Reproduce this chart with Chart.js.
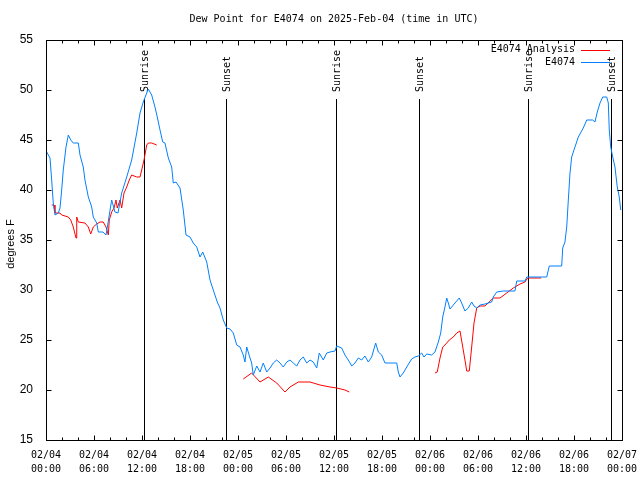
<!DOCTYPE html>
<html>
<head>
<meta charset="utf-8">
<title>Dew Point for E4074</title>
<script src="https://cdn.jsdelivr.net/npm/chart.js@4.4.1/dist/chart.umd.min.js"></script>
<style>
  html, body { margin: 0; padding: 0; background: #fff; }
  #wrap { width: 640px; height: 480px; }
</style>
</head>
<body>
<div id="wrap"><canvas id="dewChart" width="640" height="480"></canvas></div>
<script>
// hours since 2025-02-04 00:00 UTC
const obsHours = [
  0.09, 0.5, 0.71, 0.91, 1.12, 1.54, 1.75, 1.96, 2.16, 2.5, 2.79, 3.09, 3.41, 4.04, 4.25, 4.66, 4.87,
  5.29, 5.71, 5.91, 6.34, 6.54, 7.12, 7.5, 7.75, 8.21, 8.62, 9.0, 9.46, 10.09, 10.71, 11.34, 11.75,
  12.16, 12.59, 12.79, 13.21, 13.62, 13.91, 14.25, 14.59, 14.87, 15.29, 15.71, 15.91, 16.25, 16.75,
  17.16, 17.5, 18.0, 18.41, 18.84, 19.25, 19.59, 20.09, 20.5, 20.91, 21.41, 21.75, 22.16, 22.59,
  23.0, 23.41, 23.84, 24.25, 24.66, 24.87, 25.09, 25.5, 25.71, 25.91, 26.34, 26.75, 27.16, 27.59,
  28.0, 28.41, 28.84, 29.25, 29.66, 30.09, 30.5, 30.91, 31.34, 31.75, 32.16, 32.59, 33.0, 33.41,
  33.84, 34.16, 34.66, 35.09, 35.5, 36.12, 36.34, 36.96, 37.37, 37.79, 38.21, 38.62, 39.04, 39.46,
  39.87, 40.29, 40.71, 41.21, 41.54, 41.96, 42.37, 43.0, 43.84, 44.04, 44.25, 44.66, 45.09, 45.71,
  46.12, 46.54, 46.96, 47.25, 47.59, 48.21, 48.62, 49.04, 49.34, 49.59, 49.87, 50.09, 50.29, 50.5,
  51.12, 51.66, 51.96, 52.37, 52.79, 53.21, 53.5, 53.84, 54.25, 54.87, 55.71, 55.91, 56.34, 57.16,
  58.62, 58.84, 59.87, 60.09, 62.59, 62.91, 64.46, 64.59, 64.87, 65.09, 65.29, 65.5, 65.71, 66.12,
  66.54, 67.16, 67.59, 68.34, 68.62, 68.91, 69.25, 69.59, 70.09, 70.29, 70.41, 70.59, 70.84, 71.12,
  71.41, 71.66, 71.84
];
const obsDew = [
  43.8, 43.2, 41.0, 38.7, 37.5, 37.7, 38.2, 40.0, 42.0, 44.3, 45.5, 45.0, 44.7, 44.7, 43.5, 42.3, 41.0,
  39.3, 38.3, 37.3, 36.7, 35.8, 35.8, 35.5, 36.7, 39.0, 37.8, 37.7, 39.7, 41.3, 43.0, 45.7, 47.7,
  48.8, 49.7, 50.1, 49.5, 48.3, 47.3, 46.0, 44.8, 44.7, 43.2, 42.3, 40.7, 40.8, 40.2,
  38.0, 35.5, 35.3, 34.7, 34.3, 33.3, 33.8, 32.8, 31.0, 30.0, 28.8, 28.2, 27.0, 26.2,
  26.1, 25.7, 24.5, 24.3, 23.5, 22.8, 24.3, 23.2, 22.7, 21.5, 22.4, 21.8, 22.7, 21.8,
  22.2, 22.7, 23.0, 22.7, 22.3, 22.8, 23.0, 22.7, 22.4, 23.0, 23.3, 22.7, 23.0, 22.8,
  22.2, 23.7, 23.0, 23.7, 23.8, 23.9, 24.4, 24.2, 23.5, 23.0, 22.4, 22.7, 23.2, 23.0,
  23.4, 22.8, 23.3, 24.7, 23.8, 23.5, 22.7, 22.7, 22.7, 21.8, 21.3, 21.7, 22.3, 23.1,
  23.3, 23.4, 23.7, 23.3, 23.6, 23.5, 23.8, 24.8, 25.7, 27.3, 28.3, 29.2, 28.7, 28.1,
  28.7, 29.2, 28.7, 27.9, 28.2, 28.8, 28.4, 28.2, 28.5, 28.6, 28.8, 29.3, 29.8, 29.9,
  29.9, 30.9, 30.9, 31.3, 31.3, 32.4, 32.4, 34.2, 34.8, 36.3, 39.0, 41.7, 43.3, 44.3,
  45.3, 46.2, 47.0, 47.0, 46.8, 47.8, 48.7, 49.3, 49.3, 48.7, 46.0, 44.3, 43.3, 42.3,
  40.3, 39.3, 38.0
];

// analysis runs, null marks the breaks between runs
const anaHours = [
  0.71, 1.0, 1.12, 1.75, 1.96, 2.79, 3.09, 3.41, 3.75, 3.84, 4.04, 4.87, 5.29, 5.59, 5.91, 6.34,
  6.75, 7.16, 7.5, 7.79, 7.91, 8.21, 8.5, 8.75, 8.91, 9.25, 9.46, 9.75, 10.09, 10.41, 10.71, 11.34,
  11.75, 11.96, 12.25, 12.59, 12.79, 13.21, 13.84,
  19.0,
  24.66, 25.71, 26.75, 27.79, 28.84, 29.87, 30.5, 31.54, 33.0, 34.25, 35.5, 36.34, 37.37, 37.91,
  43.0,
  48.62, 48.91, 49.25, 49.59, 49.87, 50.41, 50.91, 51.34, 51.75, 52.37, 52.59, 52.91, 53.21, 53.5,
  53.84, 54.25, 54.87, 55.91, 56.75, 57.59, 58.41, 59.25, 59.87, 60.2, 61.9
];
const anaDew = [
  38.5, 38.5, 37.7, 37.7, 37.5, 37.3, 37.0, 36.3, 35.2, 37.3, 36.8, 36.7, 36.3, 35.6, 36.3, 36.6,
  36.8, 36.8, 36.3, 35.5, 37.0, 37.8, 38.2, 39.0, 38.2, 39.0, 38.2, 39.7, 40.3, 41.0, 41.5, 41.3,
  41.3, 42.0, 43.0, 44.5, 44.7, 44.7, 44.5,
  null,
  21.1, 21.7, 20.8, 21.3, 20.7, 19.8, 20.3, 20.8, 20.8, 20.5, 20.3, 20.2, 20.0, 19.8,
  null,
  21.7, 21.8, 23.2, 24.3, 24.5, 25.0, 25.3, 25.7, 25.9, 23.0, 21.9, 21.9, 24.3, 26.7,
  28.2, 28.4, 28.4, 29.2, 29.2, 29.7, 30.2, 30.6, 30.8, 31.2, 31.2
];

const sunHours = [12.28, 22.55, 36.27, 46.57, 60.25, 70.58];
const sunNames = ['Sunrise', 'Sunset', 'Sunrise', 'Sunset', 'Sunrise', 'Sunset'];

const xTickDays = ['02/04', '02/04', '02/04', '02/04', '02/05', '02/05', '02/05', '02/05',
                   '02/06', '02/06', '02/06', '02/06', '02/07'];
const xTickTimes = ['00:00', '06:00', '12:00', '18:00', '00:00', '06:00', '12:00', '18:00',
                    '00:00', '06:00', '12:00', '18:00', '00:00'];

const chartTitle = 'Dew Point for E4074 on 2025-Feb-04 (time in UTC)';
const yTitle = 'degrees F';

const MONO = '10px "DejaVu Sans Mono", monospace';
const SANS = '"Liberation Sans", Arial, sans-serif';

function toPoints(xs, ys) {
    return xs.map((h, i) => ({ x: h, y: ys[i] }));
}

// gnuplot look: frame, inward ticks, sun markers, legend, titles
const gnuplotFrame = {
    id: 'gnuplotFrame',
    beforeDatasetsDraw(chart) {
        const { ctx, chartArea: a, scales: { x } } = chart;
        ctx.save();
        ctx.strokeStyle = '#000';
        ctx.fillStyle = '#000';
        ctx.lineWidth = 1;
        ctx.font = MONO;
        sunHours.forEach((h, i) => {
            const px = Math.round(x.getPixelForValue(h)) + 0.5;
            ctx.beginPath();
            ctx.moveTo(px, a.top + 59);
            ctx.lineTo(px, a.bottom);
            ctx.stroke();
            ctx.save();
            ctx.translate(px + 1, a.top + 52);
            ctx.rotate(-Math.PI / 2);
            ctx.textAlign = 'left';
            ctx.textBaseline = 'middle';
            ctx.fillText(sunNames[i], 0, 0);
            ctx.restore();
        });
        ctx.restore();
    },
    afterDatasetsDraw(chart) {
        const { ctx, chartArea: a, scales: { x, y } } = chart;
        const L = Math.floor(a.left) + 0.5, R = Math.floor(a.right) + 0.5;
        const T = Math.floor(a.top) + 0.5, B = Math.floor(a.bottom) + 0.5;
        ctx.save();
        ctx.strokeStyle = '#000';
        ctx.lineWidth = 1;
        ctx.strokeRect(L, T, R - L, B - T);

        ctx.beginPath();
        for (let h = 0; h <= 72; h += 2) {
            const px = Math.round(x.getPixelForValue(h)) + 0.5;
            const len = h % 6 === 0 ? 5 : 3;
            ctx.moveTo(px, B); ctx.lineTo(px, B - len);
            ctx.moveTo(px, T); ctx.lineTo(px, T + len);
        }
        for (let v = 15; v <= 55; v += 5) {
            const py = Math.round(y.getPixelForValue(v)) + 0.5;
            ctx.moveTo(L, py); ctx.lineTo(L + 5, py);
            ctx.moveTo(R, py); ctx.lineTo(R - 5, py);
        }
        ctx.stroke();

        // legend, top right inside the plot
        ctx.font = MONO;
        ctx.fillStyle = '#000';
        ctx.textAlign = 'right';
        ctx.textBaseline = 'middle';
        chart.data.datasets.forEach((ds, i) => {
            const ly = a.top + 9.5 + i * 12.5;
            ctx.fillText(ds.label, a.right - 47, ly);
            ctx.strokeStyle = ds.borderColor;
            ctx.beginPath();
            ctx.moveTo(a.right - 41, Math.round(ly) + 0.5);
            ctx.lineTo(a.right - 12, Math.round(ly) + 0.5);
            ctx.stroke();
        });

        // chart title and y axis title
        ctx.textAlign = 'center';
        ctx.fillText(chartTitle, (a.left + a.right) / 2, 19.5);
        ctx.save();
        ctx.font = '11px ' + SANS;
        ctx.translate(11, (a.top + a.bottom) / 2 + 4);
        ctx.rotate(-Math.PI / 2);
        ctx.fillText(yTitle, 0, 0);
        ctx.restore();
        ctx.restore();
    }
};

const config = {
    type: 'line',
    data: {
        datasets: [{
            label: 'E4074 Analysis',
            data: toPoints(anaHours, anaDew),
            borderColor: '#ff0000',
            borderWidth: 1,
            pointRadius: 0,
            tension: 0,
            spanGaps: false,
            order: 2
        }, {
            label: 'E4074',
            data: toPoints(obsHours, obsDew),
            borderColor: '#0080ff',
            borderWidth: 1,
            pointRadius: 0,
            tension: 0,
            order: 1
        }]
    },
    options: {
        responsive: false,
        animation: false,
        devicePixelRatio: 1,
        layout: { padding: { left: 0, right: 18, top: 40, bottom: 0 } },
        plugins: {
            legend: { display: false },
            title: { display: false },
            tooltip: { enabled: false }
        },
        scales: {
            x: {
                type: 'linear',
                min: 0,
                max: 72,
                grid: { display: false },
                border: { display: false },
                afterFit(scale) { scale.height = 40; },
                ticks: {
                    stepSize: 6,
                    autoSkip: false,
                    maxRotation: 0,
                    padding: 0,
                    color: '#000',
                    font: { family: '"DejaVu Sans Mono", monospace', size: 10, lineHeight: 1.4 },
                    callback: (value, index) => [xTickDays[index], xTickTimes[index]]
                }
            },
            y: {
                min: 15,
                max: 55,
                grid: { display: false },
                border: { display: false },
                afterFit(scale) { scale.width = 46; },
                ticks: {
                    stepSize: 5,
                    padding: 5,
                    color: '#000',
                    font: { family: SANS, size: 12 }
                }
            }
        }
    },
    plugins: [gnuplotFrame]
};

const dewChart = new Chart(document.getElementById('dewChart'), config);
</script>
</body>
</html>
